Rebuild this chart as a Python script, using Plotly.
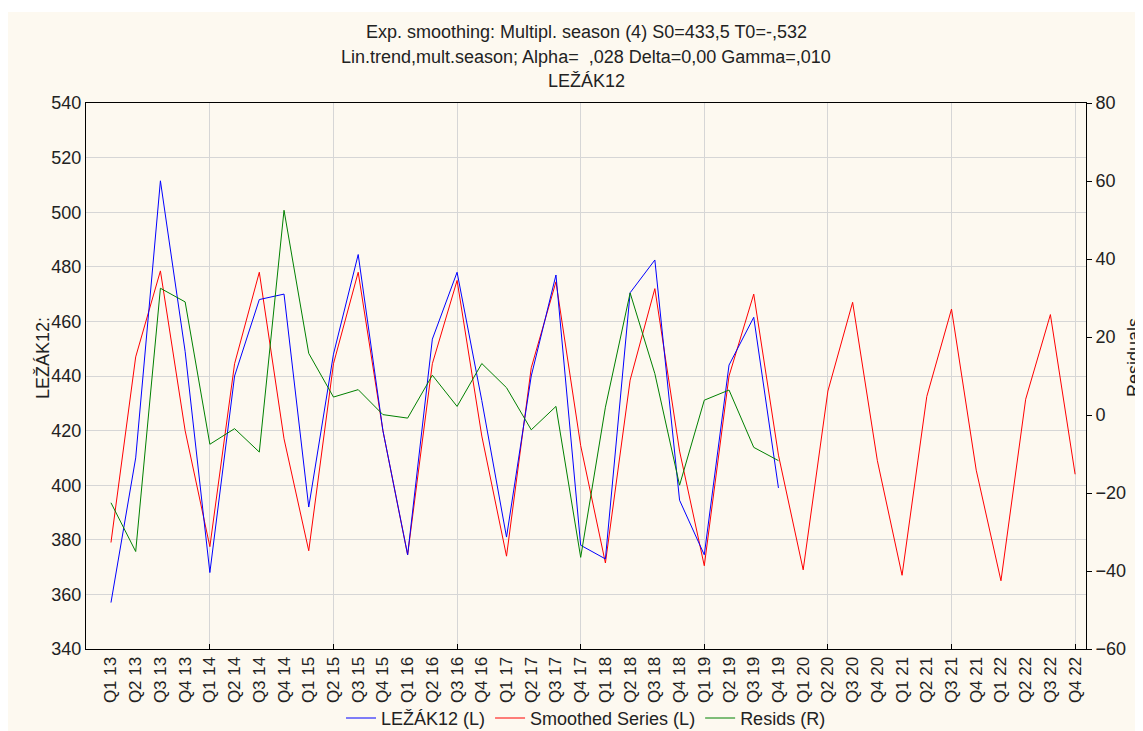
import plotly.graph_objects as go

labels = ["Q1 13", "Q2 13", "Q3 13", "Q4 13", "Q1 14", "Q2 14", "Q3 14", "Q4 14",
          "Q1 15", "Q2 15", "Q3 15", "Q4 15", "Q1 16", "Q2 16", "Q3 16", "Q4 16",
          "Q1 17", "Q2 17", "Q3 17", "Q4 17", "Q1 18", "Q2 18", "Q3 18", "Q4 18",
          "Q1 19", "Q2 19", "Q3 19", "Q4 19", "Q1 20", "Q2 20", "Q3 20", "Q4 20",
          "Q1 21", "Q2 21", "Q3 21", "Q4 21", "Q1 22", "Q2 22", "Q3 22", "Q4 22"]

lezak = [357, 410, 511.5, 449, 368, 440, 468, 470, 392, 448, 484.5, 420,
         374.5, 453.5, 478, 431, 381, 440, 477, 378, 373, 470.5, 482.5, 394.5,
         374.5, 444, 461.5, 399]

smoothed = [379, 447, 478.5, 420, 377.5, 444.5, 478, 417, 376, 444.5, 478, 420,
            374.5, 444.5, 475, 418, 374, 443, 474.5, 414.5, 371.5, 438.5, 472, 412.5,
            370.5, 440, 470, 411, 369, 434.5, 467, 409, 367, 432.5, 464.5, 405.5,
            365, 431.5, 462.5, 404]

resids = [-22.5, -35, 32.5, 29, -7.5, -3.5, -9.5, 52.5, 15.8, 4.6, 6.5, 0.1,
          -0.8, 10.2, 2.2, 13.2, 7, -3.8, 2.2, -36.5, 2, 31.3, 10.6, -18,
          3.8, 6.4, -8.3, -11.7]

idx = list(range(len(labels)))
grid_idx = idx[4::5]

FONT = "Liberation Sans, Arial, sans-serif"
CREAM = "#FDF9F0"
GRID = "#D6D6D6"
TXT = "#222222"
XR = [-1.01, 39.44]

fig = go.Figure()
fig.add_trace(go.Scatter(x=idx[:len(smoothed)], y=smoothed, name="Smoothed Series (L)",
                         mode="lines", line=dict(color="#FF0000", width=1),
                         legendrank=2))
fig.add_trace(go.Scatter(x=idx[:len(lezak)], y=lezak, name="LEŽÁK12 (L)",
                         mode="lines", line=dict(color="#0000FF", width=1),
                         legendrank=1))
fig.add_trace(go.Scatter(x=idx[:len(resids)], y=resids, name="Resids (R)",
                         mode="lines", line=dict(color="#008000", width=1),
                         xaxis="x2", yaxis="y2", legendrank=3))

# page has an 8px body offset; plot area target on screen: x 86..1086, y 103..649
fig.update_layout(
    width=1143, height=731,
    margin=dict(l=78, r=65, t=95, b=90, autoexpand=False),
    paper_bgcolor="white",
    plot_bgcolor="white",
    font=dict(family=FONT, size=18, color=TXT),
    showlegend=True,
    legend=dict(orientation="h", xref="paper", x=0.5, xanchor="center",
                yref="container", y=0.003, yanchor="bottom",
                font=dict(size=18), bgcolor="rgba(0,0,0,0)"),
    xaxis=dict(range=XR, tickmode="array", tickvals=idx, ticktext=labels,
               tickangle=-90, showgrid=False, showline=True, linecolor="black",
               linewidth=1, mirror=True, ticks="", zeroline=False,
               tickfont=dict(size=17), automargin=False),
    xaxis2=dict(range=XR, overlaying="x", anchor="y2", side="bottom",
                tickmode="array", tickvals=grid_idx, showticklabels=False,
                showgrid=True, gridcolor=GRID, gridwidth=1, ticks="inside",
                ticklen=5, tickcolor="black", showline=False, zeroline=False,
                automargin=False),
    yaxis=dict(range=[340, 540], tick0=340, dtick=20, showgrid=True,
               gridcolor=GRID, gridwidth=1, showline=True, linecolor="black",
               linewidth=1, mirror=True, ticks="", zeroline=False,
               automargin=False),
    yaxis2=dict(range=[-60, 80], tick0=-60, dtick=20, overlaying="y",
                anchor="x2", side="right", showgrid=False, ticks="outside",
                ticklen=5, tickcolor="black", showline=True, linecolor="black",
                zeroline=False, automargin=False),
)

def py(p):
    return (649 - p) / 546

def px(p):
    return (p - 86) / 1000

# cream page background (white strip of ~12px at top, ~8px at left on screen)
fig.add_shape(type="rect", xref="paper", yref="paper", x0=px(0), x1=px(1300),
              y0=py(900), y1=py(12), fillcolor=CREAM, line=dict(width=0),
              layer="below")

titles = ["Exp. smoothing: Multipl. season (4) S0=433,5 T0=-,532",
          "Lin.trend,mult.season; Alpha=  ,028 Delta=0,00 Gamma=,010",
          "LEŽÁK12"]
for t, yy in zip(titles, [32, 57, 81]):
    fig.add_annotation(text=t, xref="paper", yref="paper", x=0.5, y=py(yy),
                       xanchor="center", yanchor="middle", showarrow=False,
                       font=dict(size=18, color=TXT))

fig.add_annotation(text="LEŽÁK12:", xref="paper", yref="paper", x=px(43), y=py(358),
                   xanchor="center", yanchor="middle", textangle=-90,
                   showarrow=False, font=dict(size=18, color=TXT))
fig.add_annotation(text="Residuals", xref="paper", yref="paper", x=px(1122), y=py(358),
                   xanchor="left", yanchor="middle", textangle=-90,
                   showarrow=False, font=dict(size=18, color=TXT))

fig.write_html("out.html")
